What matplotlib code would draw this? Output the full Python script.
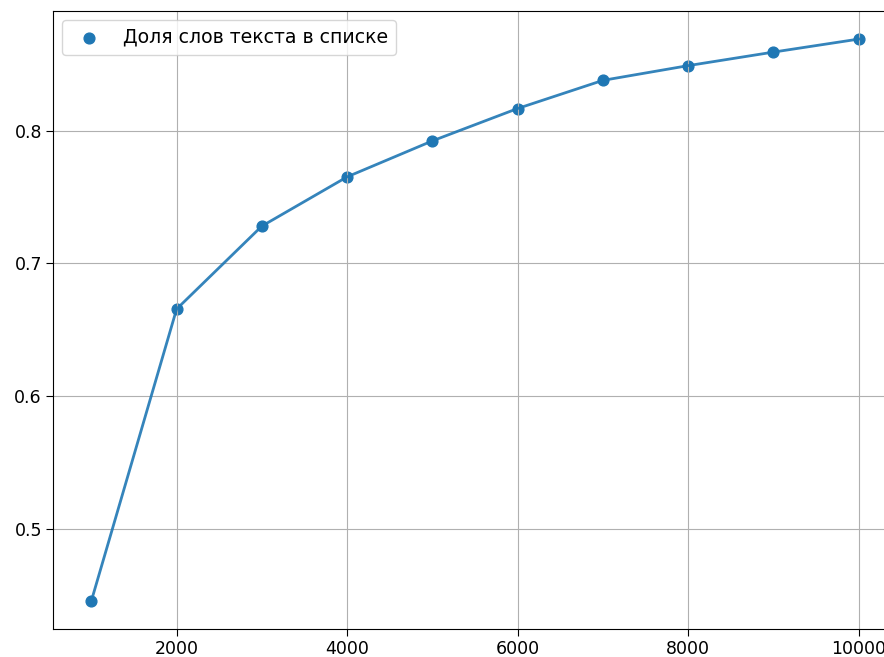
import matplotlib.pyplot as plt

# size of the word list vs share of text words found in it
list_sizes = [1000, 2000, 3000, 4000, 5000, 6000, 7000, 8000, 9000, 10000]
share_in_list = [0.4456, 0.6655, 0.7280, 0.7651, 0.7922, 0.8166, 0.8378, 0.8489, 0.8591, 0.8689]

fig = plt.figure(figsize=(8.84, 6.57), dpi=100)
ax = fig.add_axes([53 / 884, 28 / 657, 844 / 884, 618 / 657])

ax.scatter(list_sizes, share_in_list, s=60, label="Доля слов текста в списке")
ax.plot(list_sizes, share_in_list, color="#1f77b4", alpha=0.9, linewidth=2)

ax.set_yticks([0.5, 0.6, 0.7, 0.8])
ax.tick_params(labelsize=12.5, length=5, pad=3)
ax.grid()
ax.legend(loc="upper left", fontsize=13.6)

plt.savefig("out.png", dpi=100)
